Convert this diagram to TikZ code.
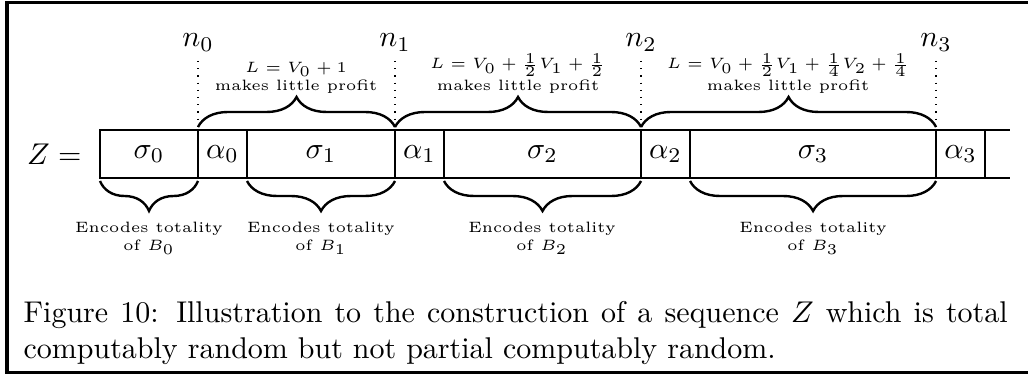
\documentclass[tikz,border=0pt]{standalone}
\usepackage{amsmath,amssymb}
\usepackage{tikz}
\usetikzlibrary{decorations.pathreplacing,positioning,calc}

\begin{document}
\begin{tikzpicture}[
  x=0.3333pt, y=-0.3333pt,
  cell/.style={draw, thick, minimum height=16pt, inner sep=0pt, outer sep=0pt},
  idx/.style={inner sep=0pt},
  note/.style={font=\tiny, align=center, inner sep=0pt},
  guide/.style={dotted},
  topbrace/.style={thick, decorate, decoration={brace, amplitude=10pt, raise=1pt}},
  botbrace/.style={thick, decorate, decoration={brace, amplitude=10pt, mirror, raise=1pt}},
  frame/.style={line width=1pt},
]
\useasboundingbox (0,0) rectangle (1028,376);
\draw[frame] (1040,3) -- (7,3) -- (7,373) -- (1040,373);

% the sequence Z
\node[cell, minimum width=32.67pt, anchor=west] (s0) at (100,154) {$\sigma_0$};
\node[cell, minimum width=16.33pt, right=0pt of s0] (a0) {$\alpha_0$};
\node[cell, minimum width=49.33pt, right=0pt of a0] (s1) {$\sigma_1$};
\node[cell, minimum width=16.33pt, right=0pt of s1] (a1) {$\alpha_1$};
\node[cell, minimum width=65.67pt, right=0pt of a1] (s2) {$\sigma_2$};
\node[cell, minimum width=16.33pt, right=0pt of s2] (a2) {$\alpha_2$};
\node[cell, minimum width=82pt, right=0pt of a2] (s3) {$\sigma_3$};
\node[cell, minimum width=16.33pt, right=0pt of s3] (a3) {$\alpha_3$};
\draw[thick] (a3.north east) -- ++(25,0);
\draw[thick] (a3.south east) -- ++(25,0);
\node[idx, left=6pt of s0] (zl) {$Z =$};

% checkpoints n_i
\foreach \i/\c in {0/s0,1/s1,2/s2,3/s3} {
  \node[idx, above=26pt of \c.north east] (n\i) {$n_\i$};
  \draw[guide, shorten <=3pt] (n\i) -- (\c.north east);
}

% L makes little profit
\draw[topbrace] (s0.north east) -- (s1.north east);
\draw[topbrace] (s1.north east) -- (s2.north east);
\draw[topbrace] (s2.north east) -- (s3.north east);
\node[note, anchor=south] (l1) at (296,94) {$L = V_0 + 1$\\makes little profit};
\node[note, anchor=south] (l2) at (518,94) {$L = V_0 + \frac{1}{2}V_1 + \frac{1}{2}$\\makes little profit};
\node[note, anchor=south] (l3) at (788,94) {$L = V_0 + \frac{1}{2}V_1 + \frac{1}{4}V_2 + \frac{1}{4}$\\makes little profit};

% encodings
\foreach \c in {s0,s1,s2,s3}
  \draw[botbrace] (\c.south west) -- (\c.south east);
\node[note, anchor=north] (e0) at (149,221) {Encodes totality\\of $B_0$};
\node[note, anchor=north] (e1) at (321,221) {Encodes totality\\of $B_1$};
\node[note, anchor=north] (e2) at (542,221) {Encodes totality\\of $B_2$};
\node[note, anchor=north] (e3) at (813,221) {Encodes totality\\of $B_3$};

% caption
\node[anchor=north west, align=left, inner sep=0pt] (cap) at (23,301)
  {\hbox to 328pt{Figure 10: Illustration to the construction of a sequence $Z$ which is total}\\
   computably random but not partial computably random.};
\end{tikzpicture}
\end{document}
